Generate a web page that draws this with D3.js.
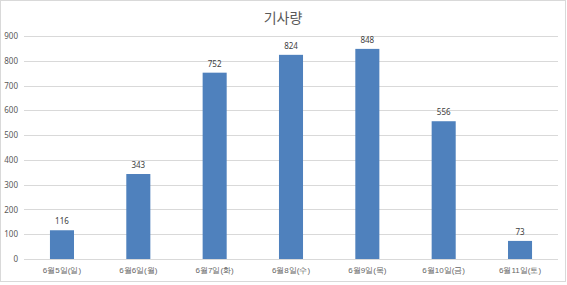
<!DOCTYPE html>
<html>
<head>
<meta charset="utf-8">
<script src="https://cdn.jsdelivr.net/npm/d3@7"></script>
<style>
  body { margin: 0; background: #fff; }
  svg { display: block; font-family: "Noto Sans CJK KR", "Noto Sans", sans-serif; }
</style>
</head>
<body>
<svg id="chart" width="567" height="285"></svg>
<script>
const title = "기사량";
const categories = ["6월5일(일)", "6월6일(월)", "6월7일(화)", "6월8일(수)", "6월9일(목)", "6월10일(금)", "6월11일(토)"];
const values = [116, 343, 752, 824, 848, 556, 73];
const yTicks = [0, 100, 200, 300, 400, 500, 600, 700, 800, 900];

const width = 567;
const height = 285;
const margin = { top: 36, right: 9, bottom: 26, left: 24 };

const svg = d3.select("#chart");

// outer frame
svg.append("rect")
  .attr("x", 0.5).attr("y", 0.5)
  .attr("width", width - 2).attr("height", height - 4)
  .attr("fill", "#fff").attr("stroke", "#d9d9d9");

const x = d3.scaleBand()
  .domain(categories)
  .range([margin.left, width - margin.right])
  .paddingInner(0.685)
  .paddingOuter(0.34);

const y = d3.scaleLinear()
  .domain([0, 900])
  .range([height - margin.bottom, margin.top]);

// gridlines
svg.append("g")
  .selectAll("line")
  .data(yTicks)
  .join("line")
  .attr("x1", margin.left)
  .attr("x2", width - margin.right)
  .attr("y1", (d) => Math.round(y(d)) + 0.5)
  .attr("y2", (d) => Math.round(y(d)) + 0.5)
  .attr("stroke", "#d9d9d9");

// y axis labels
const yAxis = svg.append("g")
  .attr("transform", "translate(" + (margin.left - 6) + ",0)")
  .call(d3.axisLeft(y).tickValues(yTicks).tickSize(0).tickPadding(0));
yAxis.select(".domain").remove();
yAxis.selectAll("text")
  .attr("fill", "#595959")
  .style("font-size", "8px")
  .style("font-family", "Noto Sans, sans-serif");

// x axis labels
const xAxis = svg.append("g")
  .attr("transform", "translate(0," + (height - margin.bottom) + ")")
  .call(d3.axisBottom(x).tickSize(0).tickPadding(8));
xAxis.select(".domain").remove();
xAxis.selectAll("text")
  .attr("fill", "#666")
  .style("font-size", "8px");

// bars
svg.append("g")
  .selectAll("rect")
  .data(values)
  .join("rect")
  .attr("x", (d, i) => x(categories[i]))
  .attr("y", (d) => y(d))
  .attr("width", x.bandwidth())
  .attr("height", (d) => y(0) - y(d))
  .attr("fill", "#4f81bd");

// value labels
svg.append("g")
  .selectAll("text")
  .data(values)
  .join("text")
  .attr("x", (d, i) => x(categories[i]) + x.bandwidth() / 2)
  .attr("y", (d) => y(d) - 6)
  .attr("text-anchor", "middle")
  .attr("fill", "#404040")
  .style("font-size", "8px")
  .style("font-family", "Noto Sans, sans-serif")
  .text((d) => d);

// title
svg.append("text")
  .attr("x", 283)
  .attr("y", 23)
  .attr("text-anchor", "middle")
  .attr("fill", "#595959")
  .style("font-size", "14px")
  .text(title);
</script>
</body>
</html>
